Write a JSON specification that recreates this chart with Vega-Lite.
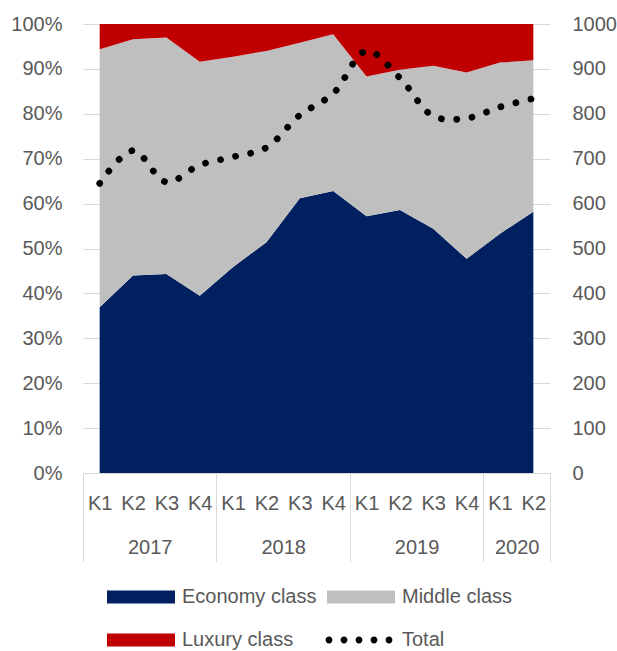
{
  "$schema": "https://vega.github.io/schema/vega-lite/v6.json",
  "width": 467,
  "height": 449,
  "autosize": {"type": "none"},
  "padding": {"left": 83, "top": 24, "right": 67, "bottom": 178},
  "background": "white",
  "config": {
    "view": {"stroke": null},
    "font": "Liberation Sans",
    "axis": {
      "labelFont": "Liberation Sans",
      "labelFontSize": 20,
      "labelColor": "#595959",
      "title": null
    },
    "legend": {
      "labelFont": "Liberation Sans",
      "labelFontSize": 20,
      "labelColor": "#595959"
    }
  },
  "datasets": {
    "shares": [
      {"period": 0, "year": 2017, "quarter": "K1", "class": "Economy class", "rank": 1, "share": 36.9},
      {"period": 0, "year": 2017, "quarter": "K1", "class": "Middle class", "rank": 2, "share": 57.5},
      {"period": 0, "year": 2017, "quarter": "K1", "class": "Luxury class", "rank": 3, "share": 5.6},
      {"period": 1, "year": 2017, "quarter": "K2", "class": "Economy class", "rank": 1, "share": 44.0},
      {"period": 1, "year": 2017, "quarter": "K2", "class": "Middle class", "rank": 2, "share": 52.6},
      {"period": 1, "year": 2017, "quarter": "K2", "class": "Luxury class", "rank": 3, "share": 3.4},
      {"period": 2, "year": 2017, "quarter": "K3", "class": "Economy class", "rank": 1, "share": 44.3},
      {"period": 2, "year": 2017, "quarter": "K3", "class": "Middle class", "rank": 2, "share": 52.7},
      {"period": 2, "year": 2017, "quarter": "K3", "class": "Luxury class", "rank": 3, "share": 3.0},
      {"period": 3, "year": 2017, "quarter": "K4", "class": "Economy class", "rank": 1, "share": 39.5},
      {"period": 3, "year": 2017, "quarter": "K4", "class": "Middle class", "rank": 2, "share": 52.1},
      {"period": 3, "year": 2017, "quarter": "K4", "class": "Luxury class", "rank": 3, "share": 8.4},
      {"period": 4, "year": 2018, "quarter": "K1", "class": "Economy class", "rank": 1, "share": 45.9},
      {"period": 4, "year": 2018, "quarter": "K1", "class": "Middle class", "rank": 2, "share": 46.8},
      {"period": 4, "year": 2018, "quarter": "K1", "class": "Luxury class", "rank": 3, "share": 7.3},
      {"period": 5, "year": 2018, "quarter": "K2", "class": "Economy class", "rank": 1, "share": 51.4},
      {"period": 5, "year": 2018, "quarter": "K2", "class": "Middle class", "rank": 2, "share": 42.6},
      {"period": 5, "year": 2018, "quarter": "K2", "class": "Luxury class", "rank": 3, "share": 6.0},
      {"period": 6, "year": 2018, "quarter": "K3", "class": "Economy class", "rank": 1, "share": 61.2},
      {"period": 6, "year": 2018, "quarter": "K3", "class": "Middle class", "rank": 2, "share": 34.6},
      {"period": 6, "year": 2018, "quarter": "K3", "class": "Luxury class", "rank": 3, "share": 4.2},
      {"period": 7, "year": 2018, "quarter": "K4", "class": "Economy class", "rank": 1, "share": 62.8},
      {"period": 7, "year": 2018, "quarter": "K4", "class": "Middle class", "rank": 2, "share": 34.9},
      {"period": 7, "year": 2018, "quarter": "K4", "class": "Luxury class", "rank": 3, "share": 2.3},
      {"period": 8, "year": 2019, "quarter": "K1", "class": "Economy class", "rank": 1, "share": 57.2},
      {"period": 8, "year": 2019, "quarter": "K1", "class": "Middle class", "rank": 2, "share": 31.1},
      {"period": 8, "year": 2019, "quarter": "K1", "class": "Luxury class", "rank": 3, "share": 11.7},
      {"period": 9, "year": 2019, "quarter": "K2", "class": "Economy class", "rank": 1, "share": 58.6},
      {"period": 9, "year": 2019, "quarter": "K2", "class": "Middle class", "rank": 2, "share": 31.2},
      {"period": 9, "year": 2019, "quarter": "K2", "class": "Luxury class", "rank": 3, "share": 10.2},
      {"period": 10, "year": 2019, "quarter": "K3", "class": "Economy class", "rank": 1, "share": 54.4},
      {"period": 10, "year": 2019, "quarter": "K3", "class": "Middle class", "rank": 2, "share": 36.3},
      {"period": 10, "year": 2019, "quarter": "K3", "class": "Luxury class", "rank": 3, "share": 9.3},
      {"period": 11, "year": 2019, "quarter": "K4", "class": "Economy class", "rank": 1, "share": 47.7},
      {"period": 11, "year": 2019, "quarter": "K4", "class": "Middle class", "rank": 2, "share": 41.5},
      {"period": 11, "year": 2019, "quarter": "K4", "class": "Luxury class", "rank": 3, "share": 10.8},
      {"period": 12, "year": 2020, "quarter": "K1", "class": "Economy class", "rank": 1, "share": 53.3},
      {"period": 12, "year": 2020, "quarter": "K1", "class": "Middle class", "rank": 2, "share": 38.1},
      {"period": 12, "year": 2020, "quarter": "K1", "class": "Luxury class", "rank": 3, "share": 8.6},
      {"period": 13, "year": 2020, "quarter": "K2", "class": "Economy class", "rank": 1, "share": 58.2},
      {"period": 13, "year": 2020, "quarter": "K2", "class": "Middle class", "rank": 2, "share": 33.7},
      {"period": 13, "year": 2020, "quarter": "K2", "class": "Luxury class", "rank": 3, "share": 8.1}
    ],
    "totals": [
      {"period": 0, "year": 2017, "quarter": "K1", "total": 645},
      {"period": 1, "year": 2017, "quarter": "K2", "total": 718},
      {"period": 2, "year": 2017, "quarter": "K3", "total": 648},
      {"period": 3, "year": 2017, "quarter": "K4", "total": 686},
      {"period": 4, "year": 2018, "quarter": "K1", "total": 704},
      {"period": 5, "year": 2018, "quarter": "K2", "total": 725},
      {"period": 6, "year": 2018, "quarter": "K3", "total": 797},
      {"period": 7, "year": 2018, "quarter": "K4", "total": 845},
      {"period": 8, "year": 2019, "quarter": "K1", "total": 940},
      {"period": 9, "year": 2019, "quarter": "K2", "total": 880},
      {"period": 10, "year": 2019, "quarter": "K3", "total": 795},
      {"period": 11, "year": 2019, "quarter": "K4", "total": 790},
      {"period": 12, "year": 2020, "quarter": "K1", "total": 815},
      {"period": 13, "year": 2020, "quarter": "K2", "total": 834}
    ]
  },
  "layer": [
    {
      "data": {"name": "shares"},
      "mark": {"type": "area", "opacity": 1, "interpolate": "linear"},
      "encoding": {
        "x": {
          "field": "period",
          "type": "quantitative",
          "scale": {"domain": [-0.5, 13.5], "nice": false, "zero": false},
          "axis": {
            "orient": "bottom",
            "values": [0, 1, 2, 3, 4, 5, 6, 7, 8, 9, 10, 11, 12, 13],
            "labelExpr": "'K' + (datum.value % 4 + 1)",
            "ticks": false,
            "domain": false,
            "grid": false,
            "labelPadding": 30,
            "labelBaseline": "middle",
            "labelFlush": false,
            "labelOverlap": false,
            "labelBound": false
          }
        },
        "y": {
          "field": "share",
          "type": "quantitative",
          "stack": "normalize",
          "scale": {"domain": [0, 1], "nice": false},
          "axis": {
            "orient": "left",
            "values": [0, 0.1, 0.2, 0.3, 0.4, 0.5, 0.6, 0.7, 0.8, 0.9, 1],
            "format": ".0%",
            "ticks": false,
            "domain": false,
            "grid": true,
            "gridColor": "#d9d9d9",
            "gridWidth": 1,
            "labelPadding": 21
          }
        },
        "color": {
          "field": "class",
          "type": "nominal",
          "scale": {
            "domain": ["Economy class", "Middle class", "Luxury class", "Total"],
            "range": ["#002060", "#bfbfbf", "#c00000", "#000000"]
          },
          "legend": {
            "orient": "none",
            "legendX": 24,
            "legendY": 563,
            "direction": "horizontal",
            "columns": 2,
            "title": null,
            "padding": 0,
            "symbolSize": 400,
            "symbolStrokeWidth": 0,
            "symbolOpacity": 1,
            "labelOffset": 55,
            "columnPadding": 8,
            "rowPadding": 23,
            "encode": {
              "symbols": {
                "update": {
                  "shape": {"signal": "datum.value === 'Total' ? 'M-1.14,0a0.34,0.34 0 1,0 0.68,0a0.34,0.34 0 1,0 -0.68,0ZM0.36,0a0.34,0.34 0 1,0 0.68,0a0.34,0.34 0 1,0 -0.68,0ZM1.86,0a0.34,0.34 0 1,0 0.68,0a0.34,0.34 0 1,0 -0.68,0ZM3.36,0a0.34,0.34 0 1,0 0.68,0a0.34,0.34 0 1,0 -0.68,0ZM4.86,0a0.34,0.34 0 1,0 0.68,0a0.34,0.34 0 1,0 -0.68,0Z' : 'M-1,-0.65H5.8V0.65H-1Z'"}
                }
              }
            }
          }
        },
        "order": {"field": "rank", "type": "quantitative"}
      }
    },
    {
      "data": {"name": "totals"},
      "mark": {"type": "rule", "strokeOpacity": 0},
      "encoding": {
        "x": {
          "field": "period",
          "type": "quantitative",
          "axis": {
            "orient": "bottom",
            "values": [-0.5, 3.5, 7.5, 11.5, 13.5],
            "labels": false,
            "ticks": true,
            "tickSize": 89,
            "tickColor": "#d9d9d9",
            "tickWidth": 1,
            "domain": false,
            "grid": false
          }
        }
      }
    },
    {
      "data": {"name": "totals"},
      "mark": {
        "type": "line",
        "color": "#000000",
        "strokeWidth": 6.7,
        "strokeCap": "round",
        "strokeDash": [0.1, 15.3],
        "interpolate": "catmull-rom"
      },
      "encoding": {
        "x": {
          "field": "period",
          "type": "quantitative",
          "axis": {
            "orient": "bottom",
            "values": [1.5, 5.5, 9.5, 12.5],
            "labelExpr": "datum.value < 4 ? '2017' : datum.value < 8 ? '2018' : datum.value < 12 ? '2019' : '2020'",
            "ticks": false,
            "domain": false,
            "grid": false,
            "labelPadding": 74,
            "labelBaseline": "middle",
            "labelFlush": false,
            "labelOverlap": false,
            "labelBound": false
          }
        },
        "y": {
          "field": "total",
          "type": "quantitative",
          "scale": {"domain": [0, 1000], "nice": false},
          "axis": {
            "orient": "right",
            "values": [0, 100, 200, 300, 400, 500, 600, 700, 800, 900, 1000],
            "format": "d",
            "ticks": false,
            "domain": false,
            "grid": false,
            "labelPadding": 22
          }
        }
      }
    }
  ],
  "resolve": {"scale": {"y": "independent"}, "axis": {"x": "independent"}}
}
